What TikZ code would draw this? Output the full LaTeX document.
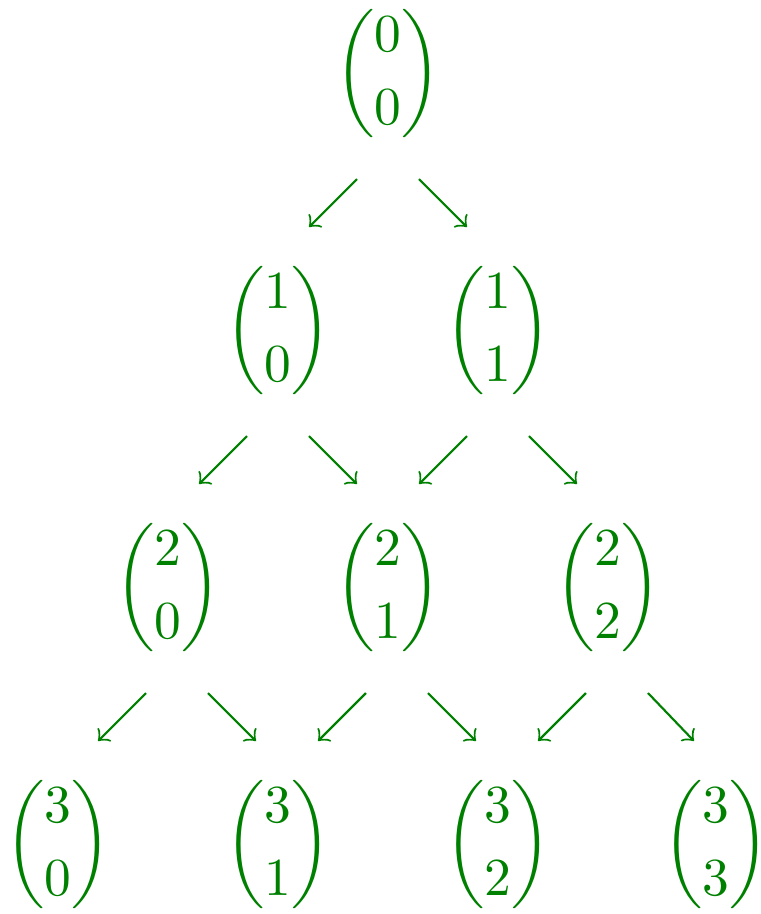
\documentclass[tikz,border=0pt]{standalone}
\usepackage{amsmath}
\usetikzlibrary{calc}
\definecolor{pgreen}{rgb}{0,0.5,0}
\begin{document}
\begin{tikzpicture}[x=0.187pt,y=-0.187pt,
  coef/.style={inner sep=0pt,outer sep=0pt,text=pgreen},
  arr/.style={draw=pgreen,line width=0.4pt,-to}]
\useasboundingbox (0,0) rectangle (760,914);
% row 0
\node[coef] (n00) at (388,74) {$\dbinom{0}{0}$};
% row 1
\node[coef] (n10) at (278,331) {$\dbinom{1}{0}$};
\node[coef] (n11) at (498,331) {$\dbinom{1}{1}$};
% row 2
\node[coef] (n20) at (168,588) {$\dbinom{2}{0}$};
\node[coef] (n21) at (388,588) {$\dbinom{2}{1}$};
\node[coef] (n22) at (608,588) {$\dbinom{2}{2}$};
% row 3
\node[coef] (n30) at (58,845) {$\dbinom{3}{0}$};
\node[coef] (n31) at (278,845) {$\dbinom{3}{1}$};
\node[coef] (n32) at (498,845) {$\dbinom{3}{2}$};
\node[coef] (n33) at (716,845) {$\dbinom{3}{3}$};
% short diagonal arrows from each entry to the two below it
\foreach \a/\b in {n00/n10,n10/n20,n11/n21}
  \draw[arr] ($(\a)+(-31,105)$) -- ($(\b)+(31,-104)$);
\foreach \a/\b in {n00/n11,n10/n21,n11/n22}
  \draw[arr] ($(\a)+(31,105)$) -- ($(\b)+(-31,-104)$);
\foreach \a/\b in {n20/n30,n21/n31,n22/n32}
  \draw[arr] ($(\a)+(-22,105)$) -- ($(\b)+(40,-104)$);
\foreach \a/\b in {n20/n31,n21/n32,n22/n33}
  \draw[arr] ($(\a)+(40,105)$) -- ($(\b)+(-22,-104)$);
\end{tikzpicture}
\end{document}
